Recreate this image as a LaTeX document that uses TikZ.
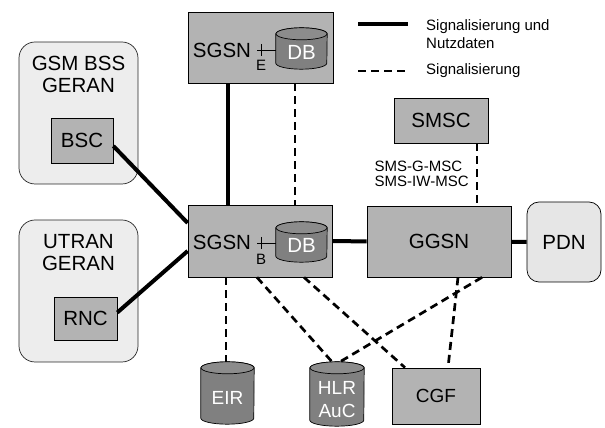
\documentclass[tikz,border=0pt]{standalone}
\usepackage{fontspec}
\setmainfont{Liberation Sans}
\usetikzlibrary{calc}

\definecolor{boxgray}{HTML}{B3B3B3}
\definecolor{cylgray}{HTML}{808080}
\definecolor{cyltopgray}{HTML}{8C8C8C}
\definecolor{regionfill}{HTML}{EDEDED}
\definecolor{pdnfill}{HTML}{E6E6E6}

% database drum drawn around the extent of a named node; #2 = half width
\newcommand{\drumshape}[2]{%
  \filldraw[fill=cylgray, line width=0.7pt]
    let \p1=(#1.north west), \p2=(#1.south east) in
    (\x1,{\y1-6}) -- (\x1,{\y2+6})
    arc[start angle=180, end angle=360, x radius=#2, y radius=6]
    -- (\x2,{\y1-6})
    arc[start angle=0, end angle=180, x radius=#2, y radius=6] -- cycle;
  \filldraw[fill=cyltopgray, line width=0.7pt]
    ($(#1.north)+(0,-6)$) ellipse[x radius=#2, y radius=6];
}

\begin{document}
\begin{tikzpicture}[x=1pt, y=1pt,
  bigfont/.style={font=\fontsize{20.5}{22}\selectfont},
  box/.style={draw=black, line width=0.7pt, fill=boxgray, inner sep=0pt, bigfont},
  region/.style={draw=black!85, line width=0.7pt, fill=regionfill,
                 rounded corners=16pt, inner sep=0pt},
  cylnode/.style={inner sep=0pt},
  cyllabel/.style={text=white, align=center, inner sep=0pt,
                   font=\fontsize{19}{23}\selectfont},
  lbl/.style={inner sep=0pt, align=center, bigfont},
  smalllbl/.style={inner sep=0pt, align=left, font=\fontsize{15}{18.6}\selectfont},
  data/.style={line width=4pt},
  signal/.style={line width=2.7pt, dash pattern=on 8pt off 5pt},
  thinline/.style={line width=0.8pt}
]
\useasboundingbox (0,0) rectangle (605,428);

% access networks
\node[region, minimum width=119, minimum height=142] (gsm) at (78.5,315) {};
\node[lbl] (gsmT) at (78.5,354) {GSM BSS\\GERAN};
\node[box, minimum width=62, minimum height=45] (bsc) at (82,287.5) {BSC};

\node[region, minimum width=119, minimum height=142] (utran) at (78.5,137) {};
\node[lbl] (utranT) at (78.5,175.5) {UTRAN\\GERAN};
\node[box, minimum width=63, minimum height=43] (rnc) at (85.5,109.5) {RNC};

% core nodes
\node[box, minimum width=145, minimum height=71] (sgsnE) at (260.5,380.5) {};
\node[lbl] (sgsnEtxt) at (222,378) {SGSN};
\node[box, minimum width=144, minimum height=72] (sgsnB) at (260,187) {};
\node[lbl] (sgsnBtxt) at (222,186) {SGSN};

\node[box, minimum width=144, minimum height=71] (ggsn) at (439,186.5) {GGSN};
\node[box, minimum width=94, minimum height=45] (smsc) at (441,307.5) {SMSC};
\node[box, fill=pdnfill, rounded corners=12pt, minimum width=74, minimum height=80]
  (pdn) at (564,186) {PDN};
\node[box, minimum width=88, minimum height=56,
      font=\fontsize{19}{22}\selectfont] (cgf) at (436,32) {CGF};

% databases
\node[cylnode, minimum width=51, minimum height=41] (dbE) at (301.5,379.5) {};
\node[cylnode, minimum width=51, minimum height=40] (dbB) at (301.5,186) {};
\node[cylnode, minimum width=53, minimum height=62] (eir) at (227.5,35) {};
\node[cylnode, minimum width=54, minimum height=64] (hlr) at (337,34) {};
\drumshape{dbE}{25.5}
\drumshape{dbB}{25.5}
\drumshape{eir}{26.5}
\drumshape{hlr}{27}
\node[cyllabel, font=\fontsize{20.5}{22}\selectfont] (dbEtxt) at ([yshift=-3.5]dbE.center) {DB};
\node[cyllabel, font=\fontsize{20.5}{22}\selectfont] (dbBtxt) at ([yshift=-3]dbB.center) {DB};
\node[cyllabel] (eirT) at ([yshift=-5]eir.center) {EIR};
\node[cyllabel] (hlrT) at ([yshift=-5.5]hlr.center) {HLR\\AuC};

% SGSN to database interfaces
\coordinate (kE) at (257,378);
\draw[thinline] (kE) -- (kE -| dbE.west);
\draw[thinline] (261,384) -- (261,372);
\node[inner sep=0pt, font=\fontsize{15}{18}\selectfont] (eTxt) at (261,363) {E};
\coordinate (kB) at (257,185);
\draw[thinline] (kB) -- (kB -| dbB.west);
\draw[thinline] (261,191) -- (261,179);
\node[inner sep=0pt, font=\fontsize{15}{18}\selectfont] (bTxt) at (261,169) {B};

% user data and signalling
\draw[data] ([yshift=-5.5]bsc.east) -- ([yshift=18]sgsnB.west);
\draw[data] ([yshift=6]rnc.east) -- ([yshift=-10]sgsnB.west);
\draw[data] ([xshift=-32.5]sgsnE.south) -- ([xshift=-32.5]sgsnE.south |- sgsnB.north);
\draw[data] (sgsnB) -- (ggsn);
\draw[data] (ggsn) -- (pdn);

% signalling only
\draw[signal] ([xshift=34.5]sgsnE.south) -- ([xshift=34.5]sgsnE.south |- sgsnB.north);
\draw[signal] ([xshift=36]smsc.south) -- ([xshift=36]smsc.south |- ggsn.north);
\draw[signal] ([xshift=-34]sgsnB.south) -- ([xshift=-34]sgsnB.south |- eir.north);
\draw[signal] ([xshift=-3]sgsnB.south) -- ([xshift=-5]hlr.north);
\draw[signal] ([xshift=44]sgsnB.south) -- ([xshift=-31]cgf.north);
\draw[signal] ([xshift=43]ggsn.south) -- ([xshift=3]hlr.north);
\draw[signal] ([xshift=19]ggsn.south) -- ([xshift=12]cgf.north);

\node[smalllbl, anchor=west, font=\fontsize{15}{14.5}\selectfont] (smsT) at (374.5,254.2)
  {SMS-G-MSC\\SMS-IW-MSC};

% legend
\coordinate (lgA1) at (358,404);
\coordinate (lgA2) at (408,404);
\coordinate (lgB1) at (358,357);
\coordinate (lgB2) at (408,357);
\draw[data] (lgA1) -- (lgA2);
\draw[signal] (lgB1) -- (lgB2);
\node[smalllbl, anchor=west] (lgAT) at (426,393.7) {Signalisierung und\\Nutzdaten};
\node[smalllbl, anchor=base west] (lgBT) at (426,353) {Signalisierung};
\end{tikzpicture}
\end{document}
